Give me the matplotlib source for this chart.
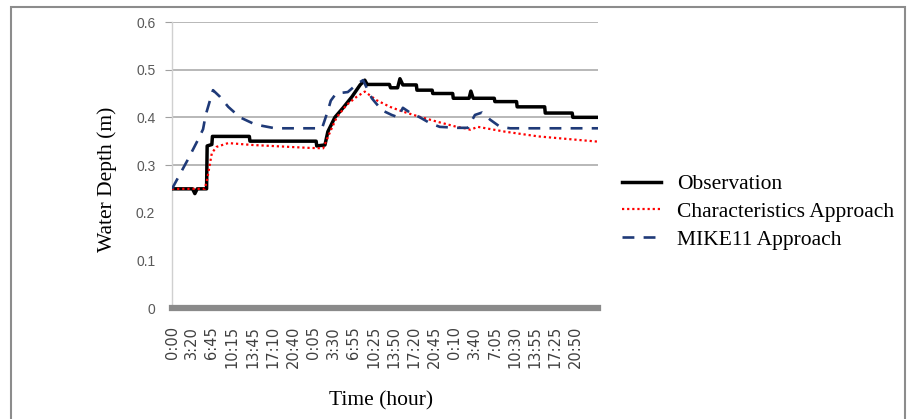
import matplotlib
matplotlib.use("Agg")
import matplotlib.pyplot as plt
from matplotlib.patches import Rectangle

# elapsed time (hours) and water depth (m)
obs_t = [0, 3.5, 3.9, 4.3, 5.9, 6.0, 6.8, 6.9, 13.2, 13.3, 24.6, 24.7, 26.1,
         26.6, 27.8, 29.2, 30.7, 32.1, 32.9, 33.3, 37.1, 37.3, 38.5, 38.9,
         39.4, 41.7, 41.8, 44.4, 44.5, 47.9, 48.0, 50.7, 51.0, 51.4, 55.0,
         55.1, 58.8, 58.9, 63.6, 63.7, 68.3, 68.4, 72.7]
obs_v = [0.25, 0.25, 0.24, 0.25, 0.25, 0.34, 0.343, 0.36, 0.36, 0.35, 0.35,
         0.34, 0.342, 0.37, 0.40, 0.42, 0.443, 0.468, 0.478, 0.469, 0.469,
         0.462, 0.462, 0.481, 0.468, 0.468, 0.457, 0.457, 0.45, 0.45, 0.44,
         0.44, 0.455, 0.44, 0.44, 0.433, 0.433, 0.422, 0.422, 0.409, 0.409,
         0.40, 0.40]

char_t = [0, 5.6, 6.0, 6.8, 7.6, 9.6, 13.7, 23.2, 25.8, 27.0, 28.1, 29.8,
          31.5, 32.9, 34.9, 37.2, 39.4, 42.3, 45.2, 48.6, 50.0, 50.9, 52.2,
          56.8, 62.5, 67.1, 72.7]
char_v = [0.25, 0.25, 0.27, 0.325, 0.338, 0.346, 0.342, 0.336, 0.335, 0.37,
          0.40, 0.426, 0.443, 0.454, 0.436, 0.422, 0.412, 0.401, 0.391, 0.38,
          0.377, 0.374, 0.38, 0.37, 0.36, 0.355, 0.349]

mike_t = [0, 2.6, 4.4, 5.3, 5.75, 7.0, 8.2, 9.6, 11.6, 14.2, 17.6, 25.6,
          26.5, 27.1, 28.0, 30.0, 31.6, 32.6, 34.1, 35.8, 37.5, 38.6, 39.4,
          40.6, 42.3, 44.0, 45.7, 48.8, 50.5, 51.7, 52.9, 54.3, 56.0, 57.7,
          72.7]
mike_v = [0.25, 0.309, 0.352, 0.375, 0.405, 0.457, 0.443, 0.422, 0.40, 0.385,
          0.377, 0.377, 0.41, 0.435, 0.45, 0.453, 0.47, 0.478, 0.44, 0.415,
          0.405, 0.40, 0.42, 0.41, 0.40, 0.388, 0.38, 0.378, 0.378, 0.405,
          0.41, 0.395, 0.38, 0.377, 0.377]

tick_labels = ["0:00", "3:20", "6:45", "10:15", "13:45", "17:10", "20:40",
               "0:05", "3:30", "6:55", "10:25", "13:50", "17:20", "20:45",
               "0:10", "3:40", "7:05", "10:30", "13:55", "17:25", "20:50"]
tick_hours = [0, 3.33, 6.75, 10.25, 13.75, 17.17, 20.67, 24.08, 27.5, 30.92,
              34.42, 37.83, 41.33, 44.75, 48.17, 51.67, 55.08, 58.5, 61.92,
              65.42, 68.83]

serif = ["Liberation Serif", "DejaVu Serif"]

fig = plt.figure(figsize=(9.08, 4.19), dpi=100)
ax = fig.add_axes([172/908, 1-308/419, 426/908, 286/419])

ax.plot(obs_t, obs_v, color="black", lw=2.5, label="Observation", zorder=3)
ax.plot(char_t, char_v, color="red", lw=1.6, dashes=(1, 1.3),
        label="Characteristics Approach", zorder=4)
ax.plot(mike_t, mike_v, color="#1f3a78", lw=1.9, dashes=(4.5, 3.5),
        label="MIKE11 Approach", zorder=5)

ax.set_xlim(0, 72.7)
ax.set_ylim(0, 0.6)
ax.set_yticks([0, 0.1, 0.2, 0.3, 0.4, 0.5, 0.6])
ax.set_yticklabels(["0", "0.1", "0.2", "0.3", "0.4", "0.5", "0.6"],
                   family="Liberation Sans", fontsize=10, color="#595959")
ax.set_xticks(tick_hours)
ax.set_xticklabels(tick_labels, rotation=90, family="DejaVu Sans",
                   fontsize=10.5, color="#404040")
ax.tick_params(axis="x", length=0, pad=13)
ax.tick_params(axis="y", length=5, color="#a0a0a0", pad=7)

ax.grid(axis="y", color="#b8b8b8", lw=1.4)
ax.set_axisbelow(True)
for line, tk, v in zip(ax.yaxis.get_gridlines(), ax.yaxis.get_major_ticks(),
                       [0, 0.1, 0.2, 0.3, 0.4, 0.5, 0.6]):
    if v < 0.3:
        line.set_visible(False)
        tk.tick1line.set_visible(False)

ax.spines["top"].set_visible(False)
ax.spines["right"].set_visible(False)
ax.spines["left"].set_color("#d0d0d0")
ax.spines["left"].set_linewidth(1.0)
ax.spines["bottom"].set_color("#8a8a8a")
ax.spines["bottom"].set_linewidth(4.5)

ax.set_xlabel("Time (hour)", family=serif, fontsize=15.5)
ax.xaxis.set_label_coords(0.49, -0.29)
ax.set_ylabel("Water Depth (m)", family=serif, fontsize=15.5)
ax.yaxis.set_label_coords(-0.13, 0.45)

fig.legend(loc="center left", bbox_to_anchor=(622/908, 1-212/419),
           frameon=False, prop={"family": serif, "size": 15.5},
           handlelength=1.8, handletextpad=0.75, labelspacing=0.36,
           borderpad=0, borderaxespad=0)

fig.patches.append(Rectangle((11/908, -0.05), 894/908, 1.05-7/419,
                             transform=fig.transFigure, fill=False,
                             edgecolor="#8c8c8c", lw=1.5))

fig.savefig("out.png", dpi=100)
